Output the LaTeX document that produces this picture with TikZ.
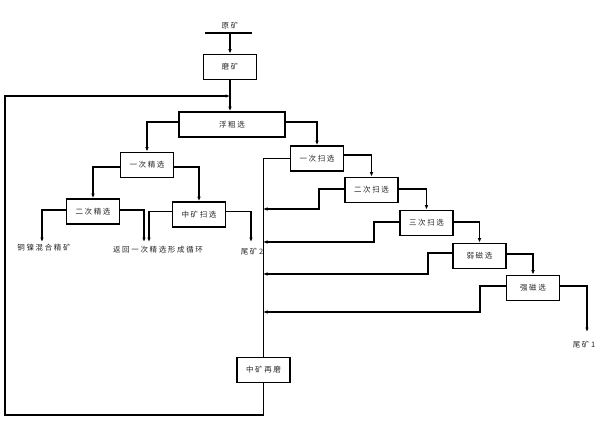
\documentclass[tikz,border=0pt]{standalone}
\usepackage{fontspec}
\newfontfamily\cjk[LetterSpace=22]{Noto Sans CJK SC}
\usetikzlibrary{arrows.meta}
\begin{document}
\begin{tikzpicture}[x=1pt,y=-1pt,
  box/.style={draw,line width=1.6pt,minimum width=53pt,minimum height=25pt,inner sep=0pt,font=\cjk\fontsize{7.5}{9}\selectfont,text=black!85},
  lbl/.style={inner sep=0pt,font=\cjk\fontsize{7.5}{9}\selectfont,text=black!85},
  flow/.style={line width=1.2pt,-{Latex[length=4.5pt,width=3.5pt]}},
  ln/.style={line width=1.2pt}]
\useasboundingbox[fill=white] (0,0) rectangle (600,424);

% nodes
\node[lbl] (yk) at (230,26) {原矿};
\coordinate (ykL) at (205,33);
\coordinate (ykR) at (252,33);
\coordinate (ykM) at (230,33);
\node[box] (mk) at (230,67) {磨矿};
\node[box,minimum width=106pt] (fc) at (232,124.5) {浮粗选};
\node[box] (jx1) at (147,165) {一次精选};
\node[box] (jx2) at (93,211.5) {二次精选};
\node[box] (zs) at (199,214.5) {中矿扫选};
\node[box] (sx1) at (317,158.5) {一次扫选};
\node[box] (sx2) at (371.5,190) {二次扫选};
\node[box] (sx3) at (426.5,223) {三次扫选};
\node[box] (rc) at (479.5,256) {弱磁选};
\node[box] (qc) at (533,288) {强磁选};
\node[box] (zm) at (263.5,370) {中矿再磨};

\node[lbl] (tnjk) at (44,248) {铜镍混合精矿};
\node[lbl] (fh) at (158,250) {返回一次精选形成循环};
\node[lbl] (wk2) at (252,252) {尾矿2};
\node[lbl] (wk1) at (584,345) {尾矿1};

% coordinates
\coordinate (fbIn) at (230,96);
\coordinate (fbC1) at (5,415);
\coordinate (fbC2) at (5,96);
\coordinate (tnjkT) at (42,242);
\coordinate (fhA) at (144,242);
\coordinate (fhB) at (149,242);
\coordinate (wk2T) at (251,242);
\coordinate (wk1T) at (587,332);
\coordinate (c2a) at (319,209);
\coordinate (c2b) at (263,209);
\coordinate (c3a) at (374,242);
\coordinate (c3b) at (263,242);
\coordinate (c4a) at (428,274);
\coordinate (c4b) at (263,274);
\coordinate (c5a) at (480,312);
\coordinate (c5b) at (263,312);

% connectors
\draw[ln] (ykL) -- (ykR);
\draw[flow] (ykM) -- (mk.north);
\draw[flow] (mk.south) -- (mk.south |- fc.north);
\draw[flow] (zm.south) |- (fbC1) -- (fbC2) -- (fbIn);
\draw[flow] ([yshift=2.5pt]fc.west) -| (jx1.north);
\draw[flow] ([yshift=2.5pt]fc.east) -| (sx1.north);
\draw[flow] ([yshift=-2pt]jx1.west) -| (jx2.north);
\draw[flow] ([yshift=-2pt]jx1.east) -| (zs.north);
\draw[flow] ([yshift=1.5pt]jx2.west) -| (tnjkT);
\draw[flow] ([yshift=1.5pt]jx2.east) -| (fhA);
\draw[flow] ([yshift=3pt]zs.west) -| (fhB);
\draw[flow] ([yshift=3pt]zs.east) -| (wk2T);
\draw[ln] (sx1.west) -| (zm.north);
\draw[flow] ([yshift=3.5pt]sx1.east) -| (sx2.north);
\draw[flow] ([yshift=1pt]sx2.west) -| (c2a) -- (c2b);
\draw[flow] ([yshift=1pt]sx2.east) -| (sx3.north);
\draw[flow] ([yshift=1pt]sx3.west) -| (c3a) -- (c3b);
\draw[flow] ([yshift=1pt]sx3.east) -| (rc.north);
\draw[flow] ([yshift=3pt]rc.west) -| (c4a) -- (c4b);
\draw[flow] ([yshift=2pt]rc.east) -| (qc.north);
\draw[flow] ([yshift=2pt]qc.west) -| (c5a) -- (c5b);
\draw[flow] ([yshift=2pt]qc.east) -| (wk1T);
\end{tikzpicture}
\end{document}
